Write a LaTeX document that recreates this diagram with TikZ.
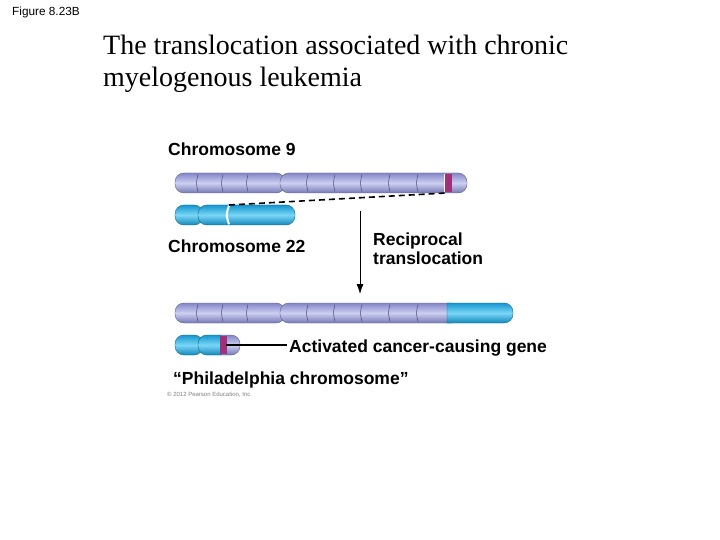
\documentclass[tikz,border=0pt]{standalone}
\usepackage{fontspec}
\usetikzlibrary{arrows.meta}
\setmainfont{Liberation Serif}
\setsansfont{Liberation Sans}
\begin{document}
\begin{tikzpicture}[x=1pt,y=-1pt]
\useasboundingbox[fill=white] (0,0) rectangle (720,540);
\definecolor{lav}{HTML}{8386C8}
\definecolor{lavL}{HTML}{CDCFF2}
\definecolor{cyn}{HTML}{1496CF}
\definecolor{cynL}{HTML}{7AD6F6}
\definecolor{pur}{HTML}{A0307A}
\tikzset{
 lavarm/.style={top color=lav,bottom color=lav!90!black,middle color=lavL,draw=lav!70!black,line width=0.4pt},
 cynarm/.style={top color=cyn,bottom color=cyn!90!black,middle color=cynL,draw=cyn!70!black,line width=0.4pt},
 band/.style={draw=lav!55!black,line width=0.5pt},
 lbl/.style={font=\sffamily\bfseries\fontsize{17.5}{19}\selectfont,anchor=base west,align=left,inner sep=0pt},
}
\node[anchor=base west,inner sep=0pt,font=\sffamily\fontsize{11.8}{13}\selectfont] (fig) at (12,16) {Figure 8.23B};
\node[anchor=base west,inner sep=0pt,font=\fontsize{28}{30}\selectfont] (title1) at (103,55) {The translocation associated with chronic};
\node[anchor=base west,inner sep=0pt,font=\fontsize{28}{30}\selectfont] (title2) at (103,87) {myelogenous leukemia};
% Chromosome 9
\path[lavarm,rounded corners=9] (175,173) rectangle (285,193);
\path[lavarm,rounded corners=9] (280,173) rectangle (467,193);
\foreach \x in {198,223,248,308,335,362,390,418}{\draw[band] (\x,174.5) .. controls (\x-2,183) .. (\x,191.5);}
\fill[pur] (445,173.6) rectangle (452,192.4);
\draw[white,line width=0.8pt] (444.5,174) -- (444.5,192);
\node[lbl] (c9) at (168,156) {Chromosome 9};
% Chromosome 22
\path[cynarm,rounded corners=9] (175,205) rectangle (203,225);
\path[cynarm,rounded corners=9] (198,205) rectangle (295,225);
\draw[white,line width=2pt] (229,205.6) .. controls (226,215) .. (229,224.4);
\node[lbl] (c22) at (168,252) {Chromosome 22};
\coordinate (d1) at (229,205);
\coordinate (d2) at (446,193);
\draw[line width=1.6pt,dash pattern=on 6pt off 4pt] (d1) -- (d2);
% arrow
\coordinate (a1) at (360,211);
\coordinate (a2) at (360,294);
\draw[-{Latex[length=10pt,width=7pt]},line width=0.9pt] (a1) -- (a2);
\node[lbl] (rt1) at (373,245) {Reciprocal};
\node[lbl] (rt2) at (373,264) {translocation};
% bottom chromosome
\path[lavarm,rounded corners=9] (175,303) rectangle (285,323);
\path[lavarm,rounded corners=9] (280,303) rectangle (460,323);
\path[cynarm] (447,303) [rounded corners=9] -- (513,303) -- (513,323) [sharp corners] -- (447,323) -- cycle;
\foreach \x in {198,223,248,308,335,362,390,418}{\draw[band] (\x,304.5) .. controls (\x-2,313) .. (\x,321.5);}
% Philadelphia
\path[lavarm,rounded corners=9] (212,335) rectangle (240,355);
\path[cynarm,rounded corners=9] (175,335) rectangle (203,355);
\path[cynarm] (221,335) [rounded corners=9] -- (198,335) -- (198,355) [sharp corners] -- (221,355) -- cycle;
\fill[pur] (220,335.6) rectangle (227,354.4);
\coordinate (g1) at (226,345);
\coordinate (g2) at (287,345);
\draw[line width=1.2pt] (g1) -- (g2);
\node[lbl] (acg) at (289,352) {Activated cancer-causing gene};
\node[lbl] (ph) at (173,384) {“Philadelphia chromosome”};
\node[anchor=base west,inner sep=0pt,font=\sffamily\fontsize{6}{7}\selectfont,text=gray] (copy) at (167,396) {© 2012 Pearson Education, Inc.};
\end{tikzpicture}
\end{document}
